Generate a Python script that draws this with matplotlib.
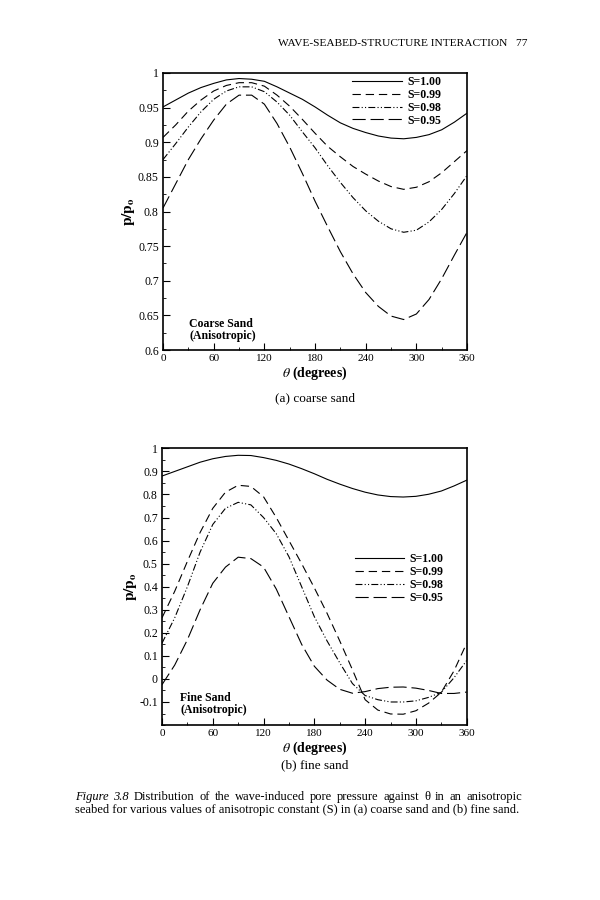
import numpy as np
import matplotlib
matplotlib.use('Agg')
import matplotlib.pyplot as plt
from matplotlib.ticker import MultipleLocator, FixedLocator

plt.rcParams['font.family'] = ['Liberation Serif', 'DejaVu Serif']
plt.rcParams['mathtext.fontset'] = 'stix'
plt.rcParams['lines.scale_dashes'] = False

# ------------------------------------------------
# data (theta in degrees, p/p0)
theta = [0, 15, 30, 45, 60, 75, 90, 105, 120, 135, 150, 165, 180,
         195, 210, 225, 240, 255, 270, 285, 300, 315, 330, 345, 360]

labels = ['S=1.00', 'S=0.99', 'S=0.98', 'S=0.95']

# (a) coarse sand
coarse_100 = [0.951, 0.961, 0.971, 0.979, 0.985, 0.990, 0.992, 0.991, 0.988, 0.980, 0.971, 0.962, 0.951,
              0.939, 0.928, 0.920, 0.914, 0.909, 0.906, 0.905, 0.907, 0.911, 0.918, 0.929, 0.942]
coarse_099 = [0.907, 0.925, 0.945, 0.961, 0.974, 0.982, 0.986, 0.986, 0.981, 0.968, 0.952, 0.933, 0.913,
              0.894, 0.879, 0.865, 0.854, 0.844, 0.836, 0.832, 0.835, 0.843, 0.856, 0.872, 0.888]
coarse_098 = [0.875, 0.898, 0.922, 0.944, 0.962, 0.974, 0.980, 0.980, 0.973, 0.958, 0.939, 0.915, 0.892,
              0.866, 0.842, 0.820, 0.801, 0.786, 0.775, 0.770, 0.773, 0.785, 0.803, 0.826, 0.852]
coarse_095 = [0.805, 0.840, 0.875, 0.905, 0.932, 0.955, 0.968, 0.968, 0.955, 0.927, 0.893, 0.855, 0.815,
              0.778, 0.742, 0.710, 0.683, 0.663, 0.649, 0.644, 0.652, 0.673, 0.703, 0.737, 0.770]

# (b) fine sand
fine_100 = [0.880, 0.900, 0.920, 0.940, 0.955, 0.965, 0.970, 0.969, 0.960, 0.948, 0.932, 0.912, 0.890,
            0.866, 0.845, 0.826, 0.810, 0.798, 0.791, 0.789, 0.792, 0.801, 0.815, 0.837, 0.862]
fine_099 = [0.265, 0.380, 0.510, 0.635, 0.740, 0.810, 0.840, 0.835, 0.790, 0.700, 0.600, 0.500, 0.395,
            0.285, 0.165, 0.040, -0.090, -0.135, -0.152, -0.153, -0.138, -0.105, -0.058, 0.035, 0.155]
fine_098 = [0.155, 0.265, 0.400, 0.550, 0.670, 0.740, 0.766, 0.755, 0.700, 0.630, 0.530, 0.400, 0.270,
            0.165, 0.070, -0.020, -0.072, -0.090, -0.100, -0.100, -0.095, -0.080, -0.058, 0.005, 0.080]
fine_095 = [-0.025, 0.060, 0.170, 0.300, 0.415, 0.485, 0.528, 0.522, 0.485, 0.390, 0.270, 0.150, 0.055,
            -0.005, -0.045, -0.062, -0.055, -0.042, -0.036, -0.035, -0.040, -0.050, -0.063, -0.063, -0.057]

styles = ['-', (0, (6, 3.5)), (0, (5, 1.6, 0.8, 1.6, 0.8, 1.6)), (0, (9.5, 3.5))]

fig = plt.figure(figsize=(6, 9), dpi=100)


def style_axes(ax, ylim, yminor, yticks):
    ax.set_xlim(0, 360)
    ax.set_ylim(*ylim)
    ax.xaxis.set_major_locator(MultipleLocator(60))
    ax.xaxis.set_minor_locator(MultipleLocator(30))
    ax.yaxis.set_major_locator(FixedLocator(yticks))
    ax.yaxis.set_minor_locator(MultipleLocator(yminor))
    ax.tick_params(which='both', direction='in', top=False, right=False, pad=3)
    ax.tick_params(axis='x', labelsize=8)
    ax.tick_params(axis='y', labelsize=8.5)
    ax.tick_params(which='major', length=5, width=0.8)
    ax.tick_params(which='minor', length=2.5, width=0.6)
    ax.set_yticklabels(['%g' % t for t in yticks])
    for s in ax.spines.values():
        s.set_linewidth(1.2)
    ax.set_xlabel(r'$\theta$ (degrees)', fontsize=10, fontweight='bold', labelpad=1)
    ax.set_ylabel(r'$\mathbf{p/p_o}$', fontsize=11, labelpad=0.5)


leg_kw = dict(frameon=False, handlelength=4.2, handletextpad=0.45, labelspacing=0.08,
              borderpad=0, borderaxespad=0, prop={'weight': 'bold', 'size': 8.5})

# (a) coarse sand
ax1 = fig.add_axes([0.2717, 0.6111, 0.5067, 0.3078])
for ys, ls, lab in zip([coarse_100, coarse_099, coarse_098, coarse_095], styles, labels):
    ax1.plot(theta, ys, color='k', lw=0.8, linestyle=ls, label=lab)
style_axes(ax1, (0.6, 1.0), 0.025, np.round(np.arange(0.6, 1.001, 0.05), 2))
ax1.legend(loc='upper left', bbox_to_anchor=(0.622, 0.99), **leg_kw)
ax1.text(0.087, 0.03, 'Coarse Sand\n(Anisotropic)', transform=ax1.transAxes,
         fontsize=8.5, fontweight='bold', va='bottom', ha='left', linespacing=1.0)

# (b) fine sand
ax2 = fig.add_axes([0.2700, 0.1944, 0.5078, 0.3074])
for ys, ls, lab in zip([fine_100, fine_099, fine_098, fine_095], styles, labels):
    ax2.plot(theta, ys, color='k', lw=0.8, linestyle=ls, label=lab)
style_axes(ax2, (-0.2, 1.0), 0.05, np.round(np.arange(-0.1, 1.001, 0.1), 1))
ax2.legend(loc='upper left', bbox_to_anchor=(0.633, 0.622), **leg_kw)
ax2.text(0.06, 0.032, 'Fine Sand\n(Anisotropic)', transform=ax2.transAxes,
         fontsize=8.5, fontweight='bold', va='bottom', ha='left', linespacing=1.0)

# page text
fig.text(527 / 600, 1 - 44 / 900, 'WAVE-SEABED-STRUCTURE INTERACTION   77',
         ha='right', va='center', fontsize=8.2)
fig.text(315 / 600, 1 - 398 / 900, '(a) coarse sand', ha='center', va='center', fontsize=9.5)
fig.text(315 / 600, 1 - 765 / 900, '(b) fine sand', ha='center', va='center', fontsize=9.5)

# caption, first line justified between x=75 and x=522 px
cap_x0, cap_x1 = 75, 522
line1 = [('Figure', 'italic'), ('3.8', 'italic')] + \
    [(w, 'normal') for w in 'Distribution of the wave-induced pore pressure against \u03b8 in an anisotropic'.split()]
renderer = fig.canvas.get_renderer()
words = [fig.text(0, 1 - 800 / 900, w, style=st, fontsize=9, ha='left', va='baseline') for w, st in line1]
widths = [t.get_window_extent(renderer).width for t in words]
gap = (cap_x1 - cap_x0 - sum(widths)) / (len(words) - 1)
x = cap_x0
for t, w in zip(words, widths):
    t.set_x(x / 600)
    x += w + gap
fig.text(cap_x0 / 600, 1 - 813.5 / 900,
         'seabed for various values of anisotropic constant (S) in (a) coarse sand and (b) fine sand.',
         ha='left', va='baseline', fontsize=9)

fig.savefig('out.png', dpi=100)
